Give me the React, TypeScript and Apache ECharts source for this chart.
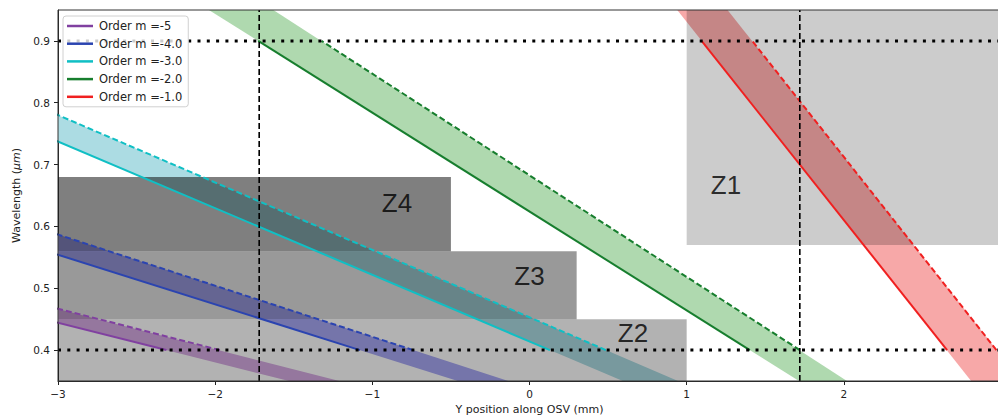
import React, { useEffect, useRef } from "react";
import * as echarts from "echarts";

// ---- data ----
const orders = ["Order m =-5", "Order m =-4.0", "Order m =-3.0", "Order m =-2.0", "Order m =-1.0"];
// x positions (mm) of the solid (lower) edge of each band at given wavelengths (µm)
const solidX035 = [-1.53, -0.456, 0.594, 1.715, 2.81];
const solidX040 = [-2.31, -1.079, 0.13, 1.402, 2.657];
const solidX090 = [-10.12, -7.31, -4.51, -1.726, 1.095];
const solidX095 = [-10.9, -7.94, -4.98, -2.04, 0.94];
// x positions of the dashed (upper) edge
const dashedX035 = [-1.21, -0.135, 0.945, 2.02, 3.13];
const dashedX040 = [-1.97, -0.74, 0.486, 1.72, 2.971];
const dashedX090 = [-9.66, -6.79, -4.1, -1.323, 1.417];
const dashedX095 = [-10.43, -7.39, -4.56, -1.63, 1.26];
const wlBottom = 0.35;
const wlLow = 0.4;
const wlHigh = 0.9;
const wlTop = 0.95;

// zones
const zoneNames = ["Z1", "Z2", "Z3", "Z4"];
const zoneX0 = [1, -3, -3, -3];
const zoneX1 = [3, 1, 0.3, -0.5];
const zoneY0 = [0.57, 0.35, 0.45, 0.56];
const zoneY1 = [0.95, 0.45, 0.56, 0.68];
const zoneLabelX = [1.25, 0.658, 0.0, -0.843];
const zoneLabelY = [0.667, 0.428, 0.52, 0.638];

// reference lines
const refX = [-1.72, 1.72];
const refY = [0.4, 0.9];

// axes
const xTicks = [-3, -2, -1, 0, 1, 2, 3];
const yTicks = [0.4, 0.5, 0.6, 0.7, 0.8, 0.9];

// ---- styles ----
const lineColors = ["#8040a0", "#2b44b0", "#10bfc4", "#177e2e", "#f02020"];
const fillColors = ["#d6abe2", "#a8a8f4", "#acdce3", "#afd9af", "#f7a8a8"];
const zoneAlpha = [0.2, 0.3, 0.4, 0.5];
const FONT = "DejaVu Sans";

export default function App() {
  const ref = useRef<HTMLDivElement>(null);
  useEffect(() => {
    const chart = echarts.init(ref.current!, undefined, { renderer: "svg" });
    const series: any[] = [];

    // band fills
    series.push({
      type: "custom",
      name: "fills",
      clip: true,
      z: 1,
      silent: true,
      data: orders.map(() => [0, 0.6]),
      renderItem: (params: any, api: any) => {
        const i = params.dataIndex;
        const pts = [
          [solidX035[i], wlBottom],
          [dashedX035[i], wlBottom],
          [dashedX095[i], wlTop],
          [solidX095[i], wlTop],
        ].map((p) => api.coord(p));
        return { type: "polygon", shape: { points: pts }, style: { fill: fillColors[i] } };
      },
    });

    // zone rectangles
    series.push({
      type: "custom",
      name: "zones",
      clip: true,
      z: 2,
      silent: true,
      data: zoneNames.map(() => [0, 0.6]),
      renderItem: (params: any, api: any) => {
        const i = params.dataIndex;
        const p0 = api.coord([zoneX0[i], zoneY1[i]]);
        const p1 = api.coord([zoneX1[i], zoneY0[i]]);
        return {
          type: "rect",
          shape: { x: p0[0], y: p0[1], width: p1[0] - p0[0], height: p1[1] - p0[1] },
          style: { fill: `rgba(0,0,0,${zoneAlpha[i]})` },
        };
      },
    });

    // solid + dashed edges
    orders.forEach((name, i) => {
      series.push({
        type: "line",
        name,
        z: 3,
        symbol: "none",
        silent: true,
        data: [
          [solidX040[i], wlLow],
          [solidX090[i], wlHigh],
        ],
        lineStyle: { color: lineColors[i], width: 2 },
        itemStyle: { color: lineColors[i] },
      });
      series.push({
        type: "line",
        name: name + " dashed",
        z: 3,
        symbol: "none",
        silent: true,
        data: [
          [dashedX040[i], wlLow],
          [dashedX090[i], wlHigh],
        ],
        lineStyle: { color: lineColors[i], width: 2, type: [6, 3], cap: "butt" },
      });
    });

    // reference lines
    refY.forEach((y, k) => {
      series.push({
        type: "line",
        name: "refY" + k,
        z: 4,
        symbol: "none",
        silent: true,
        data: [
          [-3, y],
          [3, y],
        ],
        lineStyle: { color: "#000", width: 3, type: [3, 6.3], cap: "butt" },
      });
    });
    refX.forEach((x, k) => {
      series.push({
        type: "line",
        name: "refX" + k,
        z: 4,
        symbol: "none",
        silent: true,
        data: [
          [x, wlBottom],
          [x, wlTop],
        ],
        lineStyle: { color: "#000", width: 1.6, type: [6, 3], cap: "butt" },
      });
    });

    // zone labels
    series.push({
      type: "scatter",
      name: "zoneLabels",
      z: 5,
      silent: true,
      symbolSize: 1,
      itemStyle: { color: "rgba(0,0,0,0)" },
      data: zoneNames.map((n, i) => ({ name: n, value: [zoneLabelX[i], zoneLabelY[i]] })),
      label: {
        show: true,
        position: "inside",
        formatter: "{b}",
        fontFamily: "Liberation Sans",
        fontSize: 26,
        color: "#000",
      },
    });

    chart.setOption({
      animation: false,
      backgroundColor: "#fff",
      grid: {
        left: 58,
        top: 10,
        width: 943,
        height: 371,
        outerBoundsMode: "none",
        containLabel: false,
        show: true,
        borderColor: "#333",
        borderWidth: 1,
        backgroundColor: "transparent",
        z: 6,
      },
      legend: {
        data: orders,
        orient: "vertical",
        left: 63,
        top: 16,
        icon: "rect",
        itemWidth: 26,
        itemHeight: 2.5,
        itemGap: 3.7,
        padding: [3, 6, 3, 4],
        backgroundColor: "rgba(255,255,255,0.8)",
        borderColor: "#d0d0d0",
        borderWidth: 1,
        borderRadius: 3,
        z: 100,
        selectedMode: false,
        textStyle: { fontFamily: FONT, fontSize: 11.5, color: "#222", padding: [0, 0, 0, 1], lineHeight: 14 },
      },
      xAxis: {
        type: "value",
        min: -3,
        max: 3,
        interval: 1,
        splitLine: { show: false },
        axisLine: { show: true, onZero: false, lineStyle: { color: "#222" } },
        axisTick: { show: true, length: 4, lineStyle: { color: "#222" }, customValues: xTicks },
        axisLabel: {
          customValues: xTicks,
          fontFamily: FONT,
          fontSize: 10.5,
          color: "#222",
          margin: 7,
          formatter: (v: number) => (v < 0 ? "\u2212" + Math.abs(v) : String(v)),
        },
        name: "Y position along OSV (mm)",
        nameLocation: "middle",
        nameGap: 23,
        nameTextStyle: { fontFamily: FONT, fontSize: 11, color: "#222" },
      },
      yAxis: {
        type: "value",
        min: 0.35,
        max: 0.95,
        splitLine: { show: false },
        axisLine: { show: true, onZero: false, lineStyle: { color: "#222" } },
        axisTick: { show: true, length: 4, lineStyle: { color: "#222" }, customValues: yTicks },
        axisLabel: {
          customValues: yTicks,
          fontFamily: FONT,
          fontSize: 10.5,
          color: "#222",
          margin: 8,
          formatter: (v: number) => v.toFixed(1),
        },
        name: "Wavelength ({i|μm})",
        nameLocation: "middle",
        nameGap: 33,
        nameTextStyle: {
          fontFamily: FONT,
          fontSize: 11,
          color: "#222",
          rich: { i: { fontFamily: FONT, fontSize: 11, fontStyle: "italic", color: "#222" } },
        },
      },
      series,
    });
    return () => chart.dispose();
  }, []);
  return (
    <div
      ref={ref}
      style={{ position: "fixed", left: 0, top: 0, width: 998, height: 417 }}
    />
  );
}
